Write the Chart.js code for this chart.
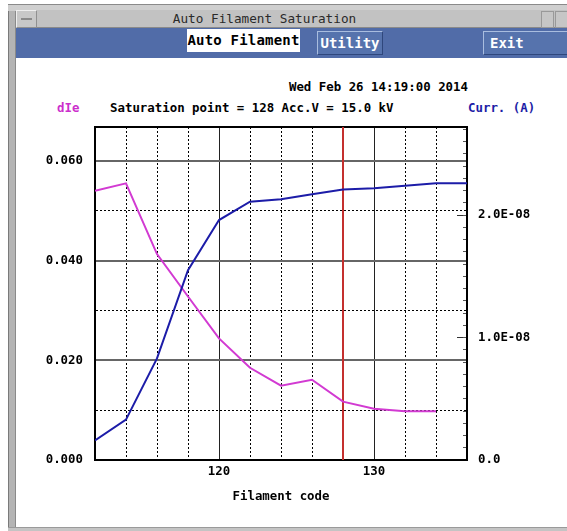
<!DOCTYPE html>
<html><head><meta charset="utf-8">
<script src="https://cdn.jsdelivr.net/npm/chart.js@4/dist/chart.umd.min.js"></script>
<style>
html,body{margin:0;padding:0;}
body{width:567px;height:531px;overflow:hidden;background:#fff;position:relative;font-family:"DejaVu Sans Mono",monospace;}
.abs{position:absolute;}
#frameL{left:8px;top:4px;width:6px;height:527px;background:#b4b4b4;border-left:1px solid #7a7a7a;border-right:1px solid #8a8a8a;}
#frameT{left:8px;top:4px;width:559px;height:6px;background:#cfcfcf;border-top:1px solid #8a8a8a;}
#titlebar{left:16px;top:10px;width:551px;height:17px;background:#c2c2c2;border-bottom:1px solid #8a8a8a;}
#tbtn{left:16px;top:10px;width:19px;height:16px;background:#c8c8c8;border:1px solid #909090;border-top-color:#eee;border-left-color:#eee;}
#tbtn:after{content:"";position:absolute;left:4px;top:7px;width:11px;height:2px;background:#8a8a8a;}
#ttext{left:0px;top:10px;width:529px;height:18px;line-height:18px;text-align:center;font-size:12.7px;color:#2a2a2a;}
#rb1{left:541px;top:11px;width:11px;height:15px;background:#c6c6c6;border:1px solid #999;}
#rb2{left:555px;top:11px;width:14px;height:15px;background:#c6c6c6;border:1px solid #999;}
#toolbar{left:16px;top:28px;width:551px;height:30px;background:#516ca8;}
#b1{left:187px;top:29px;width:113px;height:23px;background:#fff;color:#000;font-size:14px;font-weight:bold;line-height:23px;text-align:center;letter-spacing:0.2px;}
.btn{height:22px;background:#5673ad;border:1px solid #a9bddf;border-right-color:#2f477c;border-bottom-color:#2f477c;color:#fff;font-size:14px;font-weight:bold;line-height:22px;}
#b2{left:317px;top:31px;width:64px;text-align:center;}
#b3{left:483px;top:31px;width:100px;padding-left:6px;}
#frameB{left:8px;top:527px;width:559px;height:4px;background:#c4c4c4;border-top:1px solid #9a9a9a;}
.hdr{font-size:12.4px;font-weight:bold;white-space:pre;line-height:14px;}
#date{right:99px;top:80px;color:#000;}
#sat{left:110px;top:101px;color:#000;}
#dIe{left:57px;top:101px;color:#cc2fcc;}
#curr{left:468px;top:101px;color:#1d1da6;}
#wrap{left:16px;top:58px;width:551px;height:469px;}
</style></head><body>
<div class="abs" id="frameL"></div>
<div class="abs" id="frameT"></div>
<div class="abs" id="titlebar"></div>
<div class="abs" id="tbtn"></div>
<div class="abs" id="ttext">Auto Filament Saturation</div>
<div class="abs" id="rb1"></div>
<div class="abs" id="rb2"></div>
<div class="abs" id="toolbar"></div>
<div class="abs" id="b1">Auto Filament</div>
<div class="abs btn" id="b2">Utility</div>
<div class="abs btn" id="b3">Exit</div>
<div class="abs" id="frameB"></div>
<div class="abs hdr" id="date">Wed Feb 26 14:19:00 2014</div>
<div class="abs hdr" id="dIe">dIe</div>
<div class="abs hdr" id="sat">Saturation point = 128 Acc.V = 15.0 kV</div>
<div class="abs hdr" id="curr">Curr. (A)</div>
<div class="abs" id="wrap"><canvas id="c" width="551" height="469"></canvas></div>
<script>
// ---- data ----
const filamentCodes = [112, 114, 116, 118, 120, 122, 124, 126, 128, 130, 132, 134, 136];
const dIeValues = [0.0540, 0.0555, 0.0413, 0.0328, 0.0244, 0.0185, 0.0149, 0.0161, 0.0117, 0.0103, 0.0098, 0.0098];
const currentValues = [1.6e-9, 3.3e-9, 8.3e-9, 1.55e-8, 1.96e-8, 2.11e-8, 2.13e-8, 2.17e-8, 2.21e-8, 2.22e-8, 2.24e-8, 2.26e-8, 2.26e-8];
const saturationPoint = 128;
const xMin = 112, xMax = 136, xStep = 2;
const xLabelValues = [120, 130];
const leftMax = 0.0668, leftStep = 0.01;
const leftTickValues = [0, 0.02, 0.04, 0.06];
const leftTickLabels = ['0.000', '0.020', '0.040', '0.060'];
const rightMax = 2.72e-8, rightMinorStep = 1e-9, rightMajorStep = 1e-8;
const rightTickValues = [0, 1e-8, 2e-8];
const rightTickLabels = ['0.0', '1.0E-08', '2.0E-08'];

const FONT = {family: '"DejaVu Sans Mono", monospace', size: 12.4, weight: 'bold', lineHeight: 1.2};
const near = (a, b, tol) => Math.abs(a - b) < tol;
const isXMajor = v => xLabelValues.some(t => near(t, v, 1e-6));
const isYMajor = v => leftTickValues.some(t => near(t, v, 1e-7));

const dIeData = dIeValues.map((y, i) => ({x: filamentCodes[i], y}));
const currData = currentValues.map((y, i) => ({x: filamentCodes[i], y}));
const satData = [{x: saturationPoint, y: 0}, {x: saturationPoint, y: leftMax}];

new Chart(document.getElementById('c'), {
  type: 'line',
  data: {
    datasets: [
      {label: 'Saturation', data: satData, xAxisID: 'x', yAxisID: 'y', borderColor: '#c4302e', borderWidth: 2, pointRadius: 0, order: 3},
      {label: 'dIe', data: dIeData, xAxisID: 'x', yAxisID: 'y', borderColor: '#d23ad2', borderWidth: 2, pointRadius: 0, tension: 0, order: 2},
      {label: 'Curr. (A)', data: currData, xAxisID: 'x', yAxisID: 'y1', borderColor: '#1c1ca8', borderWidth: 2, pointRadius: 0, tension: 0, order: 1}
    ]
  },
  options: {
    responsive: false,
    animation: false,
    layout: {padding: 0},
    plugins: {legend: {display: false}, tooltip: {enabled: false}},
    scales: {
      x: {
        type: 'linear', position: 'bottom', min: xMin, max: xMax,
        afterFit: s => { s.height = 67; },
        ticks: {stepSize: xStep, autoSkip: false, maxRotation: 0, color: '#000', font: FONT, padding: 4,
          callback: v => isXMajor(v) ? String(v) : ''},
        grid: {drawTicks: false, color: c => (c.tick && isXMajor(c.tick.value)) ? '#222' : '#000', lineWidth: 1},
        border: {display: true, color: '#000', width: 2, dash: c => (c.type === 'tick' && c.tick && !isXMajor(c.tick.value)) ? [2, 2] : []},
        title: {display: true, text: 'Filament code', color: '#000', font: FONT, padding: {top: 0, bottom: 23}}
      },
      xTop: {
        type: 'linear', position: 'top', min: xMin, max: xMax,
        afterFit: s => { s.height = 69; },
        ticks: {display: false},
        grid: {display: false, drawTicks: false},
        border: {display: true, color: '#000', width: 2}
      },
      y: {
        type: 'linear', position: 'left', min: 0, max: leftMax,
        afterFit: s => { s.width = 79; },
        ticks: {stepSize: leftStep, includeBounds: false, autoSkip: false, color: '#000', font: FONT, padding: 12,
          callback: v => { const i = leftTickValues.findIndex(t => near(t, v, 1e-7)); return i >= 0 ? leftTickLabels[i] : ''; }},
        grid: {drawTicks: false, color: c => (c.tick && isYMajor(c.tick.value)) ? '#666' : '#000', lineWidth: c => (c.tick && isYMajor(c.tick.value)) ? 2 : 1},
        border: {display: true, color: '#000', width: 2, dash: c => (c.type === 'tick' && c.tick && !isYMajor(c.tick.value)) ? [2, 2] : []}
      },
      y2: {
        type: 'linear', position: 'right', weight: -10, min: 0, max: rightMax,
        afterFit: s => { s.width = 0; },
        ticks: {display: false, stepSize: rightMajorStep, includeBounds: false},
        grid: {drawOnChartArea: false, drawTicks: true, tickLength: -10, tickColor: '#333', tickWidth: 1},
        border: {display: false}
      },
      y1: {
        type: 'linear', position: 'right', weight: 0, min: 0, max: rightMax,
        afterFit: s => { s.width = 100; },
        ticks: {stepSize: rightMinorStep, includeBounds: false, autoSkip: false, color: '#000', font: FONT, padding: 15,
          callback: v => { const i = rightTickValues.findIndex(t => near(t, v, 1e-12)); return i >= 0 ? rightTickLabels[i] : ''; }},
        grid: {drawOnChartArea: false, drawTicks: true, tickLength: -4, tickColor: '#555', tickWidth: 1},
        border: {display: true, color: '#000', width: 2}
      }
    }
  }
});
</script>
</body></html>
